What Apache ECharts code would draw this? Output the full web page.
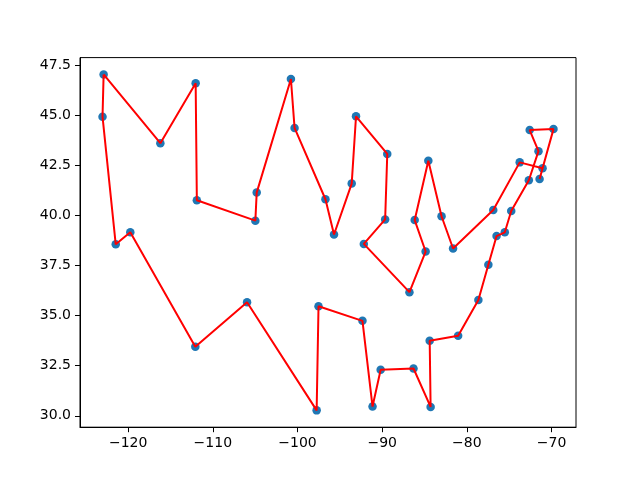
<!DOCTYPE html>
<html>
<head>
<meta charset="utf-8">
<script src="https://cdn.jsdelivr.net/npm/echarts@6/dist/echarts.min.js"></script>
<style>html,body{margin:0;padding:0;background:#fff}#c{width:640px;height:480px}</style>
</head>
<body>
<div id="c"></div>
<script>
// route order (longitude, latitude)
const lons = [-122.90, -123.03, -121.47, -119.75, -112.07, -105.96, -97.74, -97.52, -92.33, -91.14,
  -90.18, -86.30, -84.28, -84.39, -81.03, -78.64, -77.46, -76.49, -75.52, -74.76,
  -72.68, -71.54, -72.58, -69.77, -71.41, -71.06, -73.76, -76.88, -81.63, -82.99,
  -84.55, -86.16, -84.87, -86.78, -92.17, -89.65, -89.40, -93.09, -93.60, -95.69,
  -96.70, -100.35, -100.78, -104.82, -104.98, -111.89, -112.03, -116.20];
const lats = [47.04, 44.93, 38.56, 39.16, 33.45, 35.67, 30.27, 35.47, 34.74, 30.46,
  32.30, 32.36, 30.44, 33.75, 34.00, 35.78, 37.54, 38.97, 39.16, 40.22,
  41.76, 43.21, 44.26, 44.31, 41.82, 42.36, 42.65, 40.27, 38.35, 39.96,
  42.73, 39.77, 38.20, 36.17, 38.58, 39.80, 43.07, 44.95, 41.59, 39.05,
  40.81, 44.37, 46.81, 41.14, 39.74, 40.76, 46.60, 43.61];
const xTicks = [-120, -110, -100, -90, -80, -70];
const yTicks = [30.0, 32.5, 35.0, 37.5, 40.0, 42.5, 45.0, 47.5];

const pts = lons.map((x, i) => [x, lats[i]]);
const route = pts.concat([pts[0]]);

const chart = echarts.init(document.getElementById('c'), null, {renderer: 'canvas'});
const font = 'DejaVu Sans';
chart.setOption({
  backgroundColor: '#fff',
  animation: false,
  grid: {left: 80, right: 64, top: 57.6, bottom: 52.8, show: true, borderColor: '#000', borderWidth: 1, backgroundColor: 'transparent'},
  xAxis: {
    type: 'value', min: -125.69, max: -67.11,
    axisLine: {show: true, onZero: false, lineStyle: {color: '#000', width: 1}},
    axisTick: {show: true, customValues: xTicks, length: 5, lineStyle: {color: '#000', width: 1}},
    axisLabel: {customValues: xTicks, color: '#000', fontSize: 14, fontFamily: font, margin: 9,
      formatter: v => String(v).replace('-', '\u2212')},
    splitLine: {show: false}
  },
  yAxis: {
    type: 'value', min: 29.43, max: 47.88,
    axisLine: {show: true, onZero: false, lineStyle: {color: '#000', width: 1}},
    axisTick: {show: true, customValues: yTicks, length: 5, lineStyle: {color: '#000', width: 1}},
    axisLabel: {customValues: yTicks, color: '#000', fontSize: 14, fontFamily: font, margin: 9,
      formatter: v => Number(v).toFixed(1)},
    splitLine: {show: false}
  },
  series: [
    {type: 'scatter', data: pts, symbolSize: 8.5, itemStyle: {color: '#1f77b4', opacity: 1}, z: 2},
    {type: 'line', data: route, symbol: 'none', lineStyle: {color: '#ff0000', width: 2}, z: 3}
  ]
});
</script>
</body>
</html>
